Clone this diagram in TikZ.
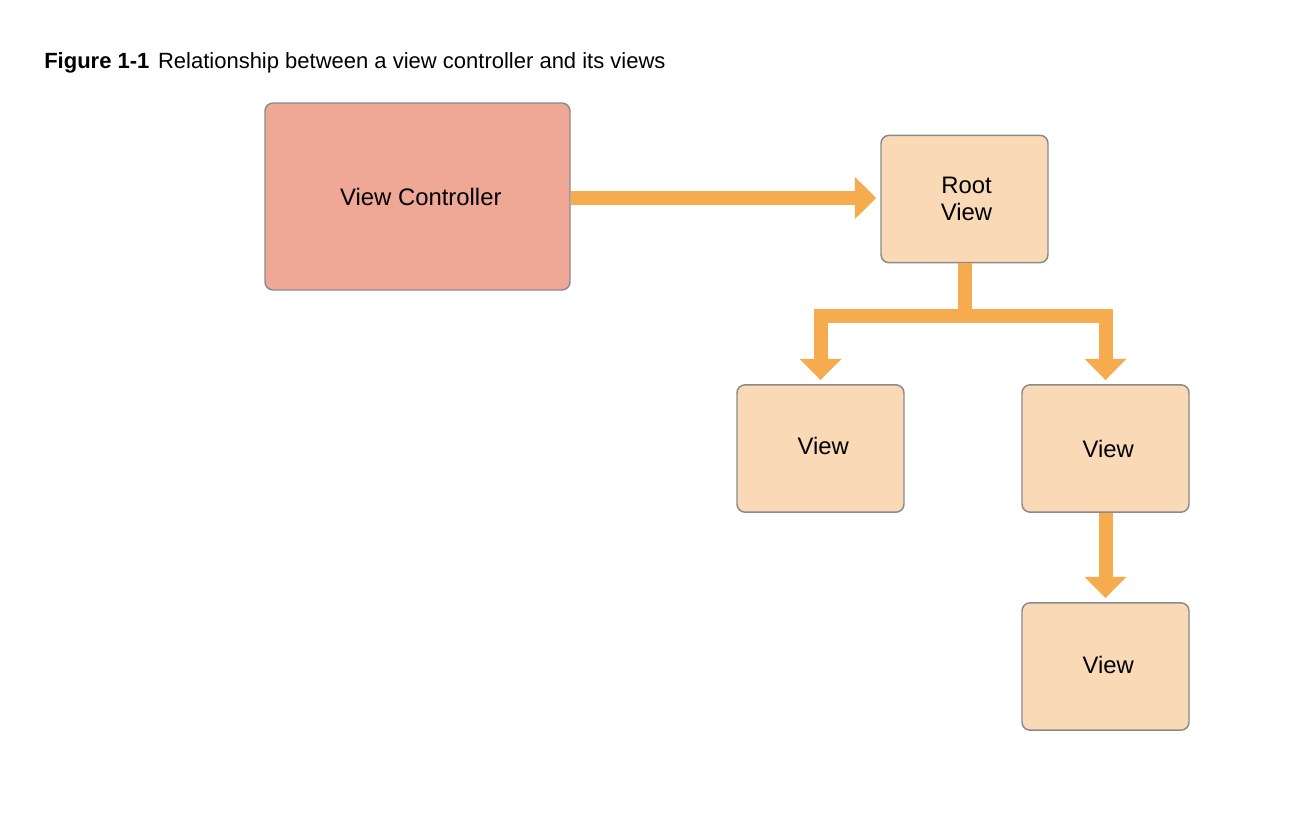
\documentclass[tikz,border=0pt]{standalone}
\usepackage{fontspec}
\setmainfont{Liberation Sans}
\usetikzlibrary{arrows.meta}
\definecolor{vcfill}{HTML}{F0A896}
\definecolor{vfill}{HTML}{FAD9B7}
\definecolor{edge}{HTML}{8A8A8A}
\definecolor{arr}{HTML}{F5AB4E}
\tikzset{
  box/.style={draw=edge, line width=1.1pt, rounded corners=6pt, inner sep=0pt,
    font=\fontsize{17.9}{20}\selectfont, align=center},
  vc/.style={box, fill=vcfill, minimum width=228.75pt, minimum height=140.25pt},
  vw/.style={box, fill=vfill, minimum width=125.25pt, minimum height=95.5pt},
  conn/.style={draw=arr, line width=10.5pt, line join=miter,
    -{Triangle[length=16pt,width=30.5pt]}, shorten >=3pt},
}
\begin{document}
\begin{tikzpicture}[x=0.75pt,y=-0.75pt]
\useasboundingbox (0,0) rectangle (1304,828);
\node[anchor=base west, font=\fontsize{16.5}{19}\selectfont, inner sep=0pt] (cap) at (44,68)
  {\textbf{Figure 1-1}\hspace{6.5pt}Relationship between a view controller and its views};
\node[vc] (vc) at (417.5,196.5) {\hspace*{5pt}View Controller};
\node[vw] (root) at (964.5,199) {\hspace*{3pt}Root\\[0pt]\hspace*{3pt}View};
\node[vw] (left) at (820.5,448.5) {\raisebox{4pt}{\hspace*{4pt}View}};
\node[vw] (right) at (1105.5,448.5) {\hspace*{4pt}View};
\node[vw] (bottom) at (1105.5,666.5) {\raisebox{2pt}{\hspace*{4pt}View}};
\coordinate (j) at (964.5,316);
\draw[conn] (vc.east |- 0,198) -- (root.west |- 0,198);
\draw[conn] (root.south) -- (j) -| (left.north);
\draw[conn] (j) -| (right.north);
\draw[conn] (right.south) -- (bottom.north);
\end{tikzpicture}
\end{document}
